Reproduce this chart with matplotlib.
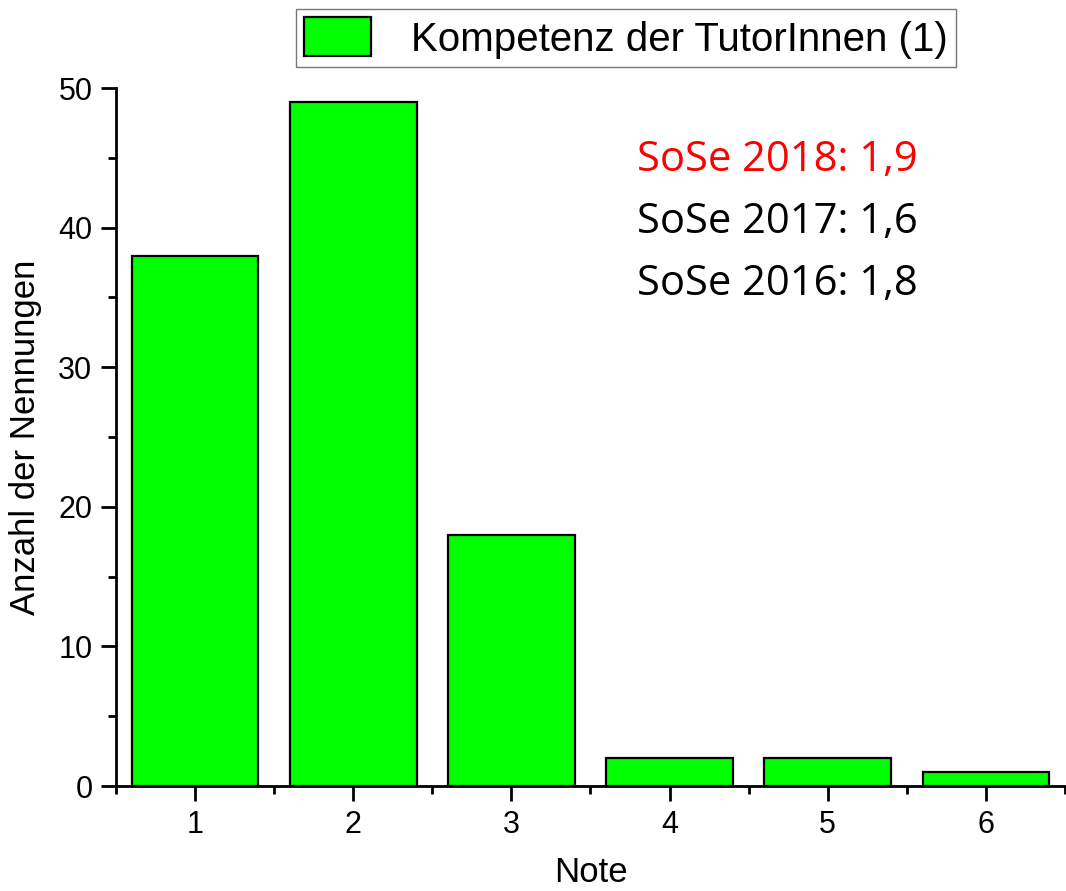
import matplotlib
matplotlib.use("Agg")
import matplotlib.pyplot as plt
from matplotlib.ticker import MultipleLocator

notes = [1, 2, 3, 4, 5, 6]
counts = [38, 49, 18, 2, 2, 1]
series_label = "Kompetenz der TutorInnen (1)"
annotations = ["SoSe 2018: 1,9", "SoSe 2017: 1,6", "SoSe 2016: 1,8"]
annotation_colors = ["#ff0000", "black", "black"]

plt.rcParams['font.family'] = ['Liberation Sans', 'DejaVu Sans']

fig = plt.figure(figsize=(10.66, 8.91), dpi=100)
ax = fig.add_axes([116/1066, 105/891, 1 - 116/1066 - 1/1066, (786-88)/891])

bars = ax.bar(notes, counts, width=0.8, color="#00ff00", edgecolor="black",
              linewidth=1.6, label=series_label)

ax.set_xlim(0.5, 6.5)
ax.set_ylim(0, 50)
ax.spines['top'].set_visible(False)
ax.spines['right'].set_visible(False)
for s in ['left', 'bottom']:
    ax.spines[s].set_linewidth(2.0)
ax.xaxis.set_major_locator(MultipleLocator(1))
ax.xaxis.set_minor_locator(MultipleLocator(0.5))
ax.yaxis.set_major_locator(MultipleLocator(10))
ax.yaxis.set_minor_locator(MultipleLocator(5))
ax.tick_params(which='major', length=11, width=2.0, labelsize=22, pad=6)
ax.tick_params(which='minor', length=6, width=2.0)
ax.set_xlabel("Note", fontsize=25, labelpad=12)
ax.set_ylabel("Anzahl der Nennungen", fontsize=25, labelpad=12)

for i, (txt, c) in enumerate(zip(annotations, annotation_colors)):
    fig.text(637/1066, 1 - (160 + i*62)/891, txt, color=c, fontsize=30,
             family=['Open Sans', 'DejaVu Sans'], va='center', ha='left')

leg = fig.legend(handles=[bars], labels=[series_label], loc='center',
                 bbox_to_anchor=(626/1066, 1 - 38/891), fontsize=29,
                 frameon=True, fancybox=False, handlelength=1.65, handleheight=1.1,
                 borderpad=0.2, handletextpad=1.0, borderaxespad=0)
leg.get_frame().set_edgecolor("#555555")
leg.get_frame().set_linewidth(1.0)

fig.savefig("out.png", dpi=100)
